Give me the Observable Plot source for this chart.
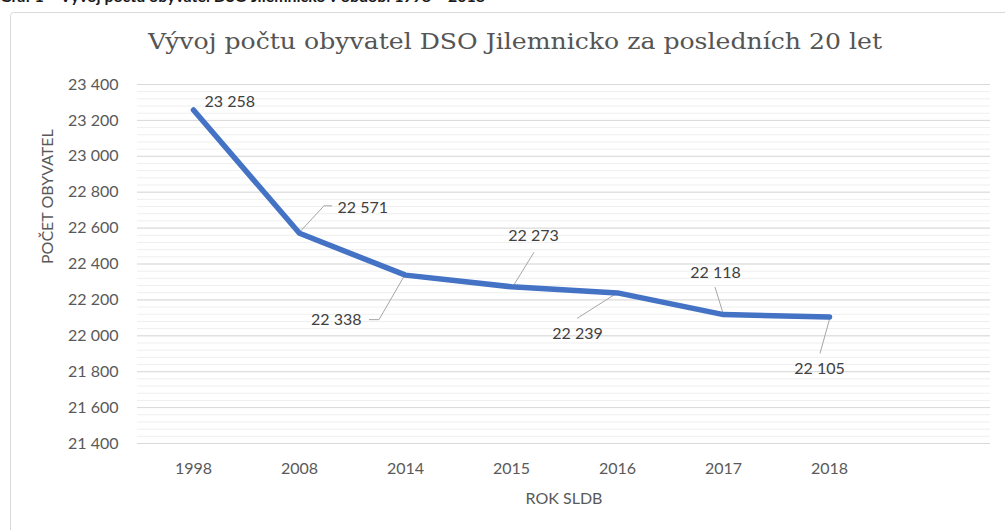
<!DOCTYPE html>
<html>
<head>
<meta charset="utf-8">
<script src="https://cdn.jsdelivr.net/npm/d3@7"></script>
<script src="https://cdn.jsdelivr.net/npm/@observablehq/plot@0.6"></script>
<style>
  html, body { margin: 0; padding: 0; background: #fff; }
  body { width: 1005px; height: 530px; overflow: hidden; position: relative; }
  #chart { position: absolute; left: 0; top: 0; }
</style>
</head>
<body>
<div id="chart"></div>
<script>
// ---- data ----
const years = ["1998", "2008", "2014", "2015", "2016", "2017", "2018"];
const population = [23258, 22571, 22338, 22273, 22239, 22118, 22105];
const yTicks = [21400, 21600, 21800, 22000, 22200, 22400, 22600, 22800, 23000, 23200, 23400];
const chartTitle = "Vývoj počtu obyvatel DSO Jilemnicko za posledních 20 let";
const figureCaption = "Graf 1 – Vývoj počtu obyvatel DSO Jilemnicko v období 1998 – 2018";
const xTitle = "ROK SLDB";
const yTitle = "POČET OBYVATEL";

// ---- layout (label offsets in px relative to each point) ----
const labelLayout = [
  {dx: 11, dy: -8, anchor: "start"},
  {dx: 38, dy: -25, anchor: "start"},
  {dx: -44, dy: 45, anchor: "end"},
  {dx: 22, dy: -51, anchor: "middle"},
  {dx: -40, dy: 41, anchor: "middle"},
  {dx: -8, dy: -42, anchor: "middle"},
  {dx: -10, dy: 52, anchor: "middle"}
];
const leaderLayout = [
  null,
  [[0, 0], [25, -27], [33, -27]],
  [[0, 0], [-26, 45], [-36, 45]],
  [[2, 0], [23, -34]],
  [[1, 0], [-40, 26]],
  [[0, -1], [-8, -27]],
  [[1, 1], [-9, 37]]
];

const fmt = d => d3.format(",")(d).replace(/,/g, " ");
const table = years.map((y, i) => ({year: y, value: population[i], i}));
const minorTicks = d3.range(21400, 23400, 40);

const labelMarks = table.map((d, i) => Plot.text([d], {
  x: "year", y: "value", text: r => fmt(r.value),
  dx: labelLayout[i].dx, dy: labelLayout[i].dy,
  textAnchor: labelLayout[i].anchor, lineAnchor: "middle",
  fill: "#404040", fontSize: 16
}));

const leaders = (index, scales) => {
  const g = d3.create("svg:g").attr("fill", "none").attr("stroke", "#a6a6a6").attr("stroke-width", 1);
  table.forEach((d, i) => {
    const pts = leaderLayout[i];
    if (!pts) return;
    const px = scales.x(d.year), py = scales.y(d.value);
    g.append("path").attr("d", "M" + pts.map(([dx, dy]) => [px + dx, py + dy].join(",")).join("L"));
  });
  return g.node();
};

const chart = Plot.plot({
  width: 1005,
  height: 530,
  marginLeft: 137,
  marginRight: 15,
  marginTop: 84,
  marginBottom: 87,
  style: {fontFamily: "Lato, sans-serif", fontSize: "16px", background: "transparent", color: "#595959"},
  x: {type: "point", domain: [...years, " "], padding: 0.5, axis: null},
  y: {domain: [21400, 23400], axis: null},
  marks: [
    Plot.gridY(minorTicks, {stroke: "#efefef", strokeOpacity: 1}),
    Plot.gridY(yTicks, {stroke: "#d9d9d9", strokeOpacity: 1}),
    Plot.axisY(yTicks, {tickSize: 0, tickPadding: 19, tickFormat: fmt, fill: "#595959", fontSize: 16, label: null}),
    Plot.axisX(years, {tickSize: 0, tickPadding: 19, fill: "#595959", fontSize: 16, label: null}),
    Plot.text([xTitle], {frameAnchor: "bottom", dy: 55, lineAnchor: "middle", fill: "#595959", fontSize: 16}),
    Plot.text([yTitle], {frameAnchor: "left", dx: -90, rotate: -90, lineAnchor: "middle", fill: "#595959", fontSize: 16}),
    leaders,
    Plot.line(table, {x: "year", y: "value", stroke: "#4472c4", strokeWidth: 5.5, strokeLinejoin: "round", strokeLinecap: "round"}),
    ...labelMarks
  ]
});

const svg = d3.select(chart);
// chart area frame
svg.insert("rect", ":first-child")
  .attr("x", 10.5).attr("y", 12.5).attr("width", 1100).attr("height", 600)
  .attr("rx", 3).attr("fill", "#fff").attr("stroke", "#d9d9d9");
// figure caption (cut at top, as in the source document)
svg.append("text")
  .attr("x", 0).attr("y", 2).attr("text-anchor", "start")
  .attr("font-family", "Lato, sans-serif").attr("font-weight", "bold").attr("font-size", 15)
  .attr("fill", "#1a1a1a")
  .attr("textLength", 485).attr("lengthAdjust", "spacingAndGlyphs")
  .text(figureCaption);
// chart title
svg.append("text")
  .attr("x", 515).attr("y", 49).attr("text-anchor", "middle")
  .attr("font-family", "'DejaVu Serif', serif").attr("font-size", 22)
  .attr("fill", "#555555")
  .attr("textLength", 734).attr("lengthAdjust", "spacingAndGlyphs")
  .text(chartTitle);

document.getElementById("chart").appendChild(chart);
</script>
</body>
</html>
